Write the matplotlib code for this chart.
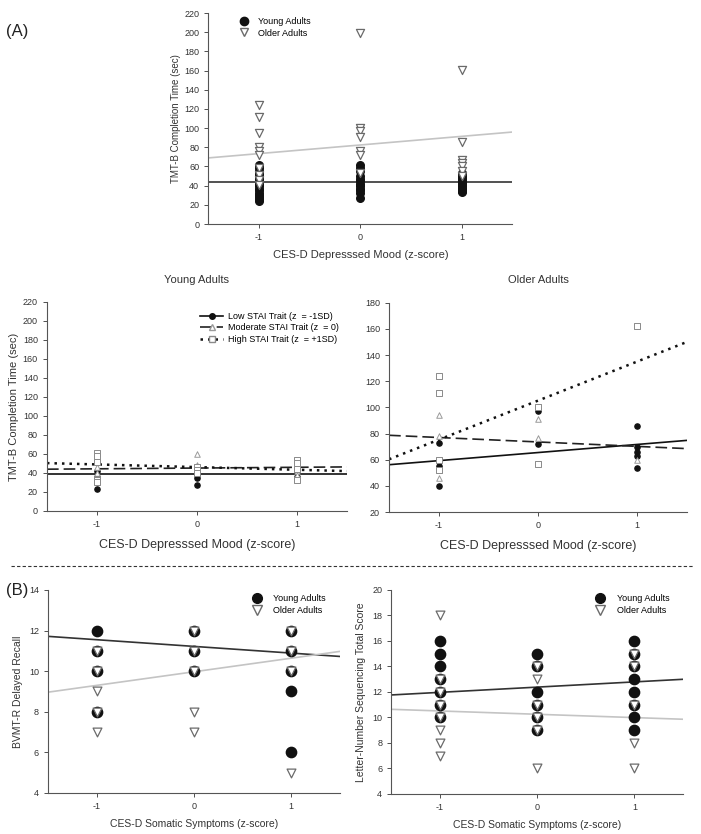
import matplotlib
matplotlib.use("Agg")
import matplotlib.pyplot as plt
import numpy as np
from matplotlib.lines import Line2D

plt.rcParams["font.family"] = ["Liberation Sans", "DejaVu Sans"]
plt.rcParams["axes.unicode_minus"] = False

# ── Panel A (top): TMT-B by CES-D depressed mood ────────────────────────────
mood_levels = [-1, 0, 1]
tmt_young = {
    -1: [62, 58, 55, 52, 50, 47, 45, 42, 40, 37, 35, 32, 30, 28, 26, 24],
    0: [62, 58, 55, 50, 47, 45, 42, 40, 37, 35, 32, 27],
    1: [53, 50, 48, 46, 44, 42, 40, 38, 36, 34, 33],
}
tmt_older = {
    -1: [124, 112, 95, 80, 76, 72, 58, 51, 46, 41],
    0: [199, 100, 97, 91, 76, 72, 53],
    1: [161, 86, 67, 64, 60, 55, 50],
}
tmt_fit_young = (43.3, 0.0)   # intercept, slope
tmt_fit_older = (82.4, 9.0)

# ── Panel A (middle): STAI trait moderation ────────────────────────────────
stai_names = ["Low STAI Trait (z  = -1SD)", "Moderate STAI Trait (z  = 0)",
              "High STAI Trait (z  = +1SD)"]
ya_low = {-1: [54, 42, 36, 23], 0: [38, 35, 27], 1: [44, 40, 36]}
ya_mod = {-1: [46, 40], 0: [60, 48, 45], 1: [48, 42, 38]}
ya_high = {-1: [61, 58, 52, 33, 30], 0: [46, 43, 40], 1: [54, 50, 44, 33]}
ya_fits = [(38.6, 0.0), (45.2, 0.8), (46.2, -2.8)]

oa_low = {-1: [73, 55, 40], 0: [97, 72], 1: [86, 70, 66, 63, 54]}
oa_mod = {-1: [94, 78, 46], 0: [91, 77], 1: [60]}
oa_high = {-1: [124, 111, 60, 52], 0: [100, 57], 1: [162]}
oa_fits = [(65.5, 6.2), (73.6, -3.4), (105.2, 29.9)]

# ── Panel B: somatic symptoms ──────────────────────────────────────────────
bvmt_young = {-1: [12, 11, 10, 8], 0: [12, 11, 10], 1: [12, 11, 10, 9, 6]}
bvmt_older = {-1: [11, 10, 9, 8, 7], 0: [12, 11, 10, 8, 7], 1: [12, 11, 10, 5]}
bvmt_fit_young = (11.22, -0.33)
bvmt_fit_older = (9.97, 0.67)

lns_young = {-1: [16, 15, 14, 13, 12, 11, 10], 0: [15, 14, 12, 11, 10, 9],
             1: [16, 15, 14, 13, 12, 11, 10, 9]}
lns_older = {-1: [18, 13, 12, 11, 10, 9, 8, 7], 0: [14, 13, 11, 10, 9, 6],
             1: [15, 14, 11, 8, 6]}
lns_fit_young = (12.38, 0.41)
lns_fit_older = (10.25, -0.26)

BLACK = "#111111"
GRAY_LINE = "#c4c4c4"
TRI_EDGE = "#6a6a6a"
XLIM = (-1.5, 1.5)


def style_axes(ax, ylim, yticks, tick_fs):
    for side in ("top", "right"):
        ax.spines[side].set_visible(False)
    for side in ("left", "bottom"):
        ax.spines[side].set_color("#555555")
        ax.spines[side].set_linewidth(0.8)
    ax.set_xlim(*XLIM)
    ax.set_ylim(*ylim)
    ax.set_yticks(yticks)
    ax.set_xticks(mood_levels)
    ax.tick_params(direction="out", length=3, width=0.6, labelsize=tick_fs,
                   colors="#333333")


def scatter_groups(ax, groups, **kw):
    xs, ys = [], []
    for x in mood_levels:
        xs += [x] * len(groups[x])
        ys += groups[x]
    ax.scatter(xs, ys, **kw)


def fit_line(ax, fit, **kw):
    xx = np.array(XLIM)
    ax.plot(xx, fit[0] + fit[1] * xx, **kw)


fig = plt.figure(figsize=(7.01, 8.34), dpi=100)

# ---- top panel ----
ax = fig.add_axes([0.297, 0.7314, 0.434, 0.253])
style_axes(ax, (0, 220), range(0, 221, 20), 6.5)
fit_line(ax, tmt_fit_young, color="#333333", lw=1.2, zorder=1)
fit_line(ax, tmt_fit_older, color=GRAY_LINE, lw=1.2, zorder=1)
scatter_groups(ax, tmt_young, marker="o", s=30, color=BLACK, zorder=3)
scatter_groups(ax, tmt_older, marker="v", s=34, facecolor="white",
               edgecolor=TRI_EDGE, linewidths=0.9, zorder=4)
ax.set_ylabel("TMT-B Completion Time (sec)", fontsize=7, color="#333333",
              labelpad=2)
ax.set_xlabel("CES-D Depresssed Mood (z-score)", fontsize=8, color="#333333",
              labelpad=6)
h1 = Line2D([], [], ls="none", marker="o", ms=6, color=BLACK)
h2 = Line2D([], [], ls="none", marker="v", ms=6, mfc="white", mec=TRI_EDGE)
ax.legend([h1, h2], ["Young Adults", "Older Adults"], loc="upper left",
          bbox_to_anchor=(0.06, 1.02), frameon=False, fontsize=6.5,
          handletextpad=0.6, labelspacing=0.3)

# ---- middle panels ----
line_styles = [dict(ls="-", color="#111111", lw=1.2),
               dict(ls=(0, (7, 3)), color="#222222", lw=1.2),
               dict(ls=(0, (1, 2)), color="#111111", lw=1.8)]
marker_styles = [dict(marker="o", s=14, color=BLACK),
                 dict(marker="^", s=16, facecolor="white", edgecolor="#9a9a9a",
                      linewidths=0.7),
                 dict(marker="s", s=16, facecolor="white", edgecolor="#8a8a8a",
                      linewidths=0.7)]

ax = fig.add_axes([0.067, 0.3873, 0.428, 0.2506])
style_axes(ax, (0, 220), range(0, 221, 20), 6.5)
for grp, fit, ms, ls in zip([ya_low, ya_mod, ya_high], ya_fits,
                            marker_styles, line_styles):
    fit_line(ax, fit, zorder=2, **ls)
    scatter_groups(ax, grp, zorder=3, **ms)
ax.set_title("Young Adults", fontsize=8, color="#333333", pad=14)
ax.set_ylabel("TMT-B Completion Time (sec)", fontsize=8, color="#333333",
              labelpad=3)
ax.set_xlabel("CES-D Depresssed Mood (z-score)", fontsize=9, color="#333333",
              labelpad=7)
handles = [
    Line2D([], [], ls="-", color=BLACK, lw=1.2, marker="o", ms=4),
    Line2D([], [], ls=(0, (7, 3)), color="#222222", lw=1.2, marker="^", ms=4,
           mfc="white", mec="#9a9a9a"),
    Line2D([], [], ls=(0, (1, 2)), color=BLACK, lw=1.8, marker="s", ms=4,
           mfc="white", mec="#8a8a8a"),
]
ax.legend(handles, stai_names, loc="upper right", bbox_to_anchor=(1.0, 0.99),
          frameon=False, fontsize=6.5, handlelength=2.6, handletextpad=0.5,
          labelspacing=0.25)

ax = fig.add_axes([0.555, 0.386, 0.425, 0.251])
style_axes(ax, (20, 180), range(20, 181, 20), 6.5)
for grp, fit, ms, ls in zip([oa_low, oa_mod, oa_high], oa_fits,
                            marker_styles, line_styles):
    fit_line(ax, fit, zorder=2, **ls)
    scatter_groups(ax, grp, zorder=3, **ms)
ax.set_title("Older Adults", fontsize=8, color="#333333", pad=14)
ax.set_xlabel("CES-D Depresssed Mood (z-score)", fontsize=9, color="#333333",
              labelpad=7)

# ---- bottom panels ----
def somatic_panel(rect, young, older, fit_y, fit_o, ylim, yticks, ylabel):
    ax = fig.add_axes(rect)
    style_axes(ax, ylim, yticks, 6.5)
    fit_line(ax, fit_y, color="#333333", lw=1.2, zorder=2)
    fit_line(ax, fit_o, color=GRAY_LINE, lw=1.2, zorder=2)
    scatter_groups(ax, young, marker="o", s=55, color=BLACK, zorder=3)
    scatter_groups(ax, older, marker="v", s=40, facecolor="white",
                   edgecolor=TRI_EDGE, linewidths=0.9, zorder=4)
    ax.set_ylabel(ylabel, fontsize=7.5, color="#333333")
    ax.set_xlabel("CES-D Somatic Symptoms (z-score)", fontsize=7.5,
                  color="#333333", labelpad=6)
    h1 = Line2D([], [], ls="none", marker="o", ms=7, color=BLACK)
    h2 = Line2D([], [], ls="none", marker="v", ms=6.5, mfc="white",
                mec=TRI_EDGE)
    ax.legend([h1, h2], ["Young Adults", "Older Adults"], loc="upper right",
              bbox_to_anchor=(0.98, 1.02), frameon=False, fontsize=6.5,
              handletextpad=0.8, labelspacing=0.3)
    return ax


somatic_panel([0.0685, 0.0492, 0.4165, 0.2434], bvmt_young, bvmt_older,
              bvmt_fit_young, bvmt_fit_older, (4, 14), range(4, 15, 2),
              "BVMT-R Delayed Recall")
somatic_panel([0.558, 0.048, 0.4165, 0.2446], lns_young, lns_older,
              lns_fit_young, lns_fit_older, (4, 20), range(4, 21, 2),
              "Letter-Number Sequencing Total Score")

# panel labels and separator
fig.text(0.008, 0.962, "(A)", fontsize=12, color="#222222", va="center")
fig.text(0.008, 0.292, "(B)", fontsize=12, color="#222222", va="center")
fig.add_artist(Line2D([0.015, 0.99], [0.3215, 0.3215], transform=fig.transFigure,
                      ls=(0, (3, 2)), color="#333333", lw=0.8))

fig.savefig("out.png", dpi=100)
